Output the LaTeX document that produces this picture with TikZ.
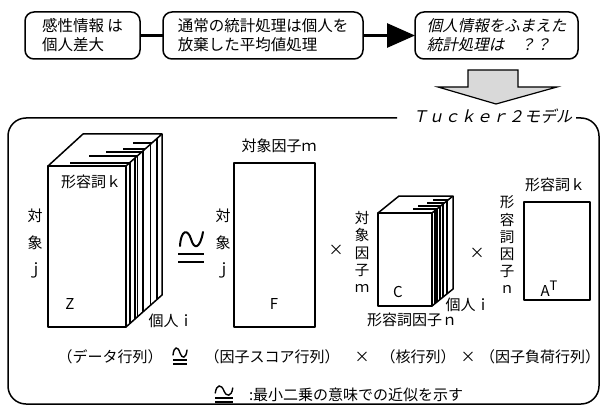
\documentclass[tikz,border=0pt]{standalone}
\usepackage{fontspec}
\newfontfamily\jp{Noto Sans CJK JP}
\newfontfamily\jpit[FakeSlant=0.22]{Noto Sans CJK JP}
\usetikzlibrary{arrows.meta}
\begin{document}
\begin{tikzpicture}[x=1pt,y=-1pt,
  every node/.style={inner sep=0pt, outer sep=0pt},
  lab/.style={font=\jp\fontsize{15}{17}\selectfont},
  vertwide/.style={align=center, font=\jp\fontsize{15}{26.5}\selectfont},
  vertnarrow/.style={align=center, font=\jp\fontsize{14.5}{17.2}\selectfont},
  box/.style={draw, line width=1.5pt, rounded corners=9pt, align=left, minimum height=47pt, font=\jp\fontsize{15.5}{19}\selectfont},
  cube/.style={line width=1.5pt, line join=round},
  frame/.style={line width=1.5pt, rounded corners=18pt},
  approxsym/.pic={
    \draw[line width=1.4pt, line cap=round] (-7,-1) .. controls (-6,-10) and (-2,-10) .. (0,-3) .. controls (2,3) and (6,3) .. (7,-6);
    \draw[line width=1.3pt] (-7,4) -- (7,4) (-7,8) -- (7,8);
  }
]
\useasboundingbox (0,0) rectangle (604,406);

% top flow
\node[box, minimum width=115pt] (b1) at (82.5,35.5) {感性情報 は\\個人差大};
\node[box, minimum width=200pt] (b2) at (263,35.5) {通常の統計処理は個人を\\放棄した平均値処理};
\node[box, minimum width=163pt, font=\jpit\fontsize{15.5}{19}\selectfont] (b3) at (496.5,35.5) {個人情報をふまえた\\統計処理は　？？};
\draw[line width=3pt] (b1.east) -- (b2.west);
\draw[line width=3pt, -{Triangle[length=28pt,width=24pt]}] (b2.east) -- (b3.west);

% big gray arrow
\draw[line width=1.2pt, line join=miter, fill=black!15] (468,70) -- (518,70) -- (518,87) -- (557,87) -- (496,104) -- (438,87) -- (468,87) -- cycle;

% frame
\draw[frame] (397,118) -- (8,118) -- (8,404) -- (599,404) -- (599,118) -- (576,118);
\node[font=\jpit\fontsize{16}{16}\selectfont] (tk) at (492,116) {Ｔｕｃｋｅｒ２モデル};

% Z cube
\draw[cube] (48,166) rectangle (126,327);
\draw[cube] (48,166) -- (83,134) -- (162,134) -- (126,166);
\draw[cube] (162,134) -- (162,295) -- (126,327);
\foreach \t/\w in {0.11/1.2pt, 0.25/2.2pt, 0.31/1.2pt, 0.47/2.2pt, 0.67/1.2pt, 0.86/1.2pt}
  \draw[line width=\w] ({126+36*\t},{166-32*\t}) -- ({126+36*\t},{327-32*\t});
\foreach \yy/\xl in {163/70, 156/89, 152/106, 149/123, 143/133}
  \draw[line width=2pt] (\xl,\yy) -- ({126+(166-\yy)*36/32},\yy);
\node[lab] (zk) at (91,182) {形容詞ｋ};
\node[vertwide] (zj) at (35,244) {対\\象\\ｊ};
\node[lab] (zz) at (70,304) {Z};
\node[lab] (zi) at (171,321) {個人ｉ};

% big approx sign
\draw[line width=2pt, line cap=round] (180,246) .. controls (181,229) and (188,229) .. (191,239) .. controls (194,250) and (200,249) .. (203,232);
\draw[line width=2pt] (178,254) -- (204,254) (178,262) -- (204,262);

% F
\draw[cube] (234,163) rectangle (315,327);
\node[lab] (fm) at (279,146) {対象因子ｍ};
\node[vertwide] (fj) at (223,244) {対\\象\\ｊ};
\node[lab] (ff) at (274,304) {F};
\node[lab] (x1) at (336,250) {×};

% C cube
\draw[cube] (378,213) rectangle (432,306);
\draw[cube] (378,213) -- (399,196) -- (453,196) -- (432,213);
\draw[cube] (453,196) -- (453,289) -- (432,306);
\foreach \t/\w in {0.14/1.2pt, 0.24/2pt, 0.38/2pt, 0.52/1.2pt, 0.71/1.2pt}
  \draw[line width=\w] ({432+21*\t},{213-17*\t}) -- ({432+21*\t},{306-17*\t});
\foreach \yy/\xl in {209/413, 206/418, 203/427, 200/433}
  \draw[line width=1.8pt] (\xl,\yy) -- ({432+(213-\yy)*21/17},\yy);
\node[vertnarrow] (cm) at (362,252) {対\\象\\因\\子\\ｍ};
\node[lab] (cc) at (398,292) {C};
\node[lab] (ci) at (468,305) {個人ｉ};
\node[lab] (cn) at (412,320) {形容詞因子ｎ};
\node[lab] (x2) at (477,253) {×};

% A^T
\draw[cube] (524,202) rectangle (590,300);
\node[vertnarrow] (an) at (507,245) {形\\容\\詞\\因\\子\\ｎ};
\node[lab] (ak) at (555,185) {形容詞ｋ};
\node[lab] (at) at (549,289) {A\raisebox{6pt}{\fontsize{13}{13}\selectfont T}};

% bottom lines
\node[lab] (l1a) at (110,357) {（データ行列）};
\pic at (180,356) {approxsym};
\node[lab] (l1b) at (272,357) {（因子スコア行列）};
\node[lab] (l1x1) at (362,357) {×};
\node[lab] (l1c) at (418,357) {（核行列）};
\node[lab] (l1x2) at (468,357) {×};
\node[lab] (l1d) at (540,357) {（因子負荷行列）};
\pic[xscale=1.25] at (224,394) {approxsym};
\node[lab, anchor=west] (l2) at (249,395) {:最小二乗の意味での近似を示す};
\end{tikzpicture}
\end{document}
